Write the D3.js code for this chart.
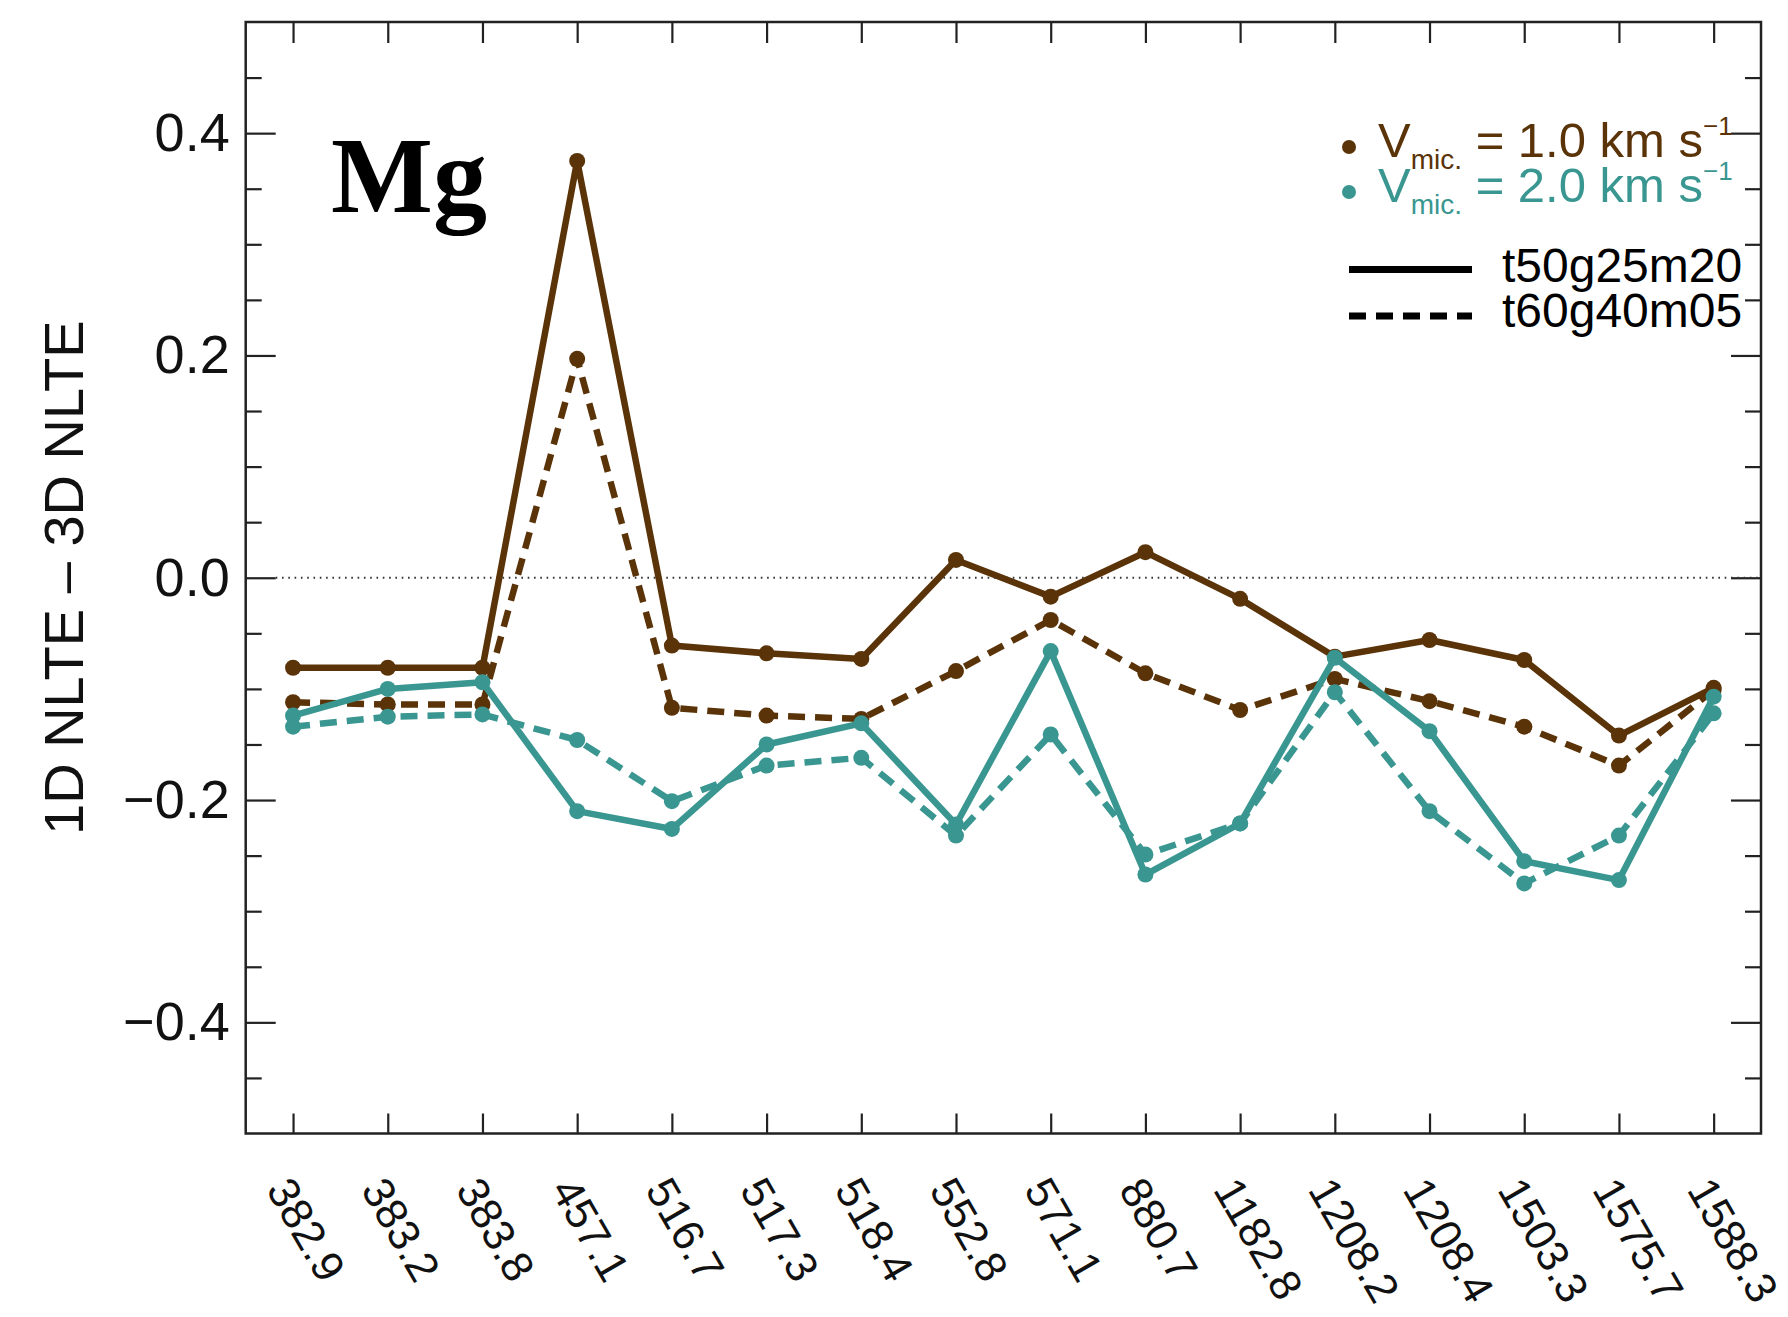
<!DOCTYPE html>
<html>
<head>
<meta charset="utf-8">
<script src="https://cdn.jsdelivr.net/npm/d3@7"></script>
<style>
  body { margin: 0; background: #fff; }
  svg { display: block; font-family: "Liberation Sans", Arial, Helvetica, sans-serif; }
</style>
</head>
<body>
<svg id="chart" width="1788" height="1317"></svg>
<script>
// Mg lines (wavelength, nm)
const lineLabels = ["382.9", "383.2", "383.8", "457.1", "516.7", "517.3", "518.4", "552.8",
                    "571.1", "880.7", "1182.8", "1208.2", "1208.4", "1503.3", "1575.7", "1588.3"];

// 1D NLTE - 3D NLTE abundance differences
const vmic1_t50g25m20 = [-0.081, -0.081, -0.081, 0.375, -0.061, -0.068, -0.073, 0.016,
                         -0.017, 0.023, -0.019, -0.071, -0.056, -0.074, -0.142, -0.099];
const vmic1_t60g40m05 = [-0.112, -0.114, -0.114, 0.197, -0.117, -0.124, -0.127, -0.084,
                         -0.038, -0.086, -0.119, -0.091, -0.111, -0.134, -0.169, -0.101];
const vmic2_t50g25m20 = [-0.124, -0.100, -0.094, -0.210, -0.226, -0.150, -0.131, -0.222,
                         -0.066, -0.267, -0.221, -0.072, -0.138, -0.255, -0.272, -0.107];
const vmic2_t60g40m05 = [-0.134, -0.125, -0.123, -0.146, -0.201, -0.169, -0.162, -0.232,
                         -0.141, -0.249, -0.221, -0.103, -0.210, -0.275, -0.232, -0.122];

const yMajorTicks = [-0.4, -0.2, 0.0, 0.2, 0.4];
const yMinorTicks = [-0.45, -0.35, -0.3, -0.25, -0.15, -0.1, -0.05, 0.05, 0.1, 0.15, 0.25, 0.3, 0.35, 0.45];

const BROWN = "#5a3308";
const TEAL = "#3a9690";
const DASH = "17,10";

const series = [
  { values: vmic1_t50g25m20, color: BROWN, dash: null },
  { values: vmic1_t60g40m05, color: BROWN, dash: DASH },
  { values: vmic2_t50g25m20, color: TEAL, dash: null },
  { values: vmic2_t60g40m05, color: TEAL, dash: DASH }
];

const W = 1788, H = 1317;
const frame = { left: 245.7, top: 22, right: 1761, bottom: 1133.5 };

const svg = d3.select("#chart");
svg.append("rect").attr("width", W).attr("height", H).attr("fill", "#fff");

const x = d3.scalePoint().domain(lineLabels).range([frame.left, frame.right]).padding(0.5);
const y = d3.scaleLinear().domain([-0.5, 0.5]).range([frame.bottom, frame.top]);

const axisColor = "#222";
function styleAxis(g, width) {
  g.select(".domain").remove();
  g.selectAll(".tick line").attr("stroke", axisColor).attr("stroke-width", width);
}

// left axis: major with labels, minor without
const gLeft = svg.append("g").attr("transform", `translate(${frame.left},0)`)
  .call(d3.axisLeft(y).tickValues(yMajorTicks).tickSize(-30).tickPadding(16).tickFormat(d3.format(".1f")))
  .call(g => styleAxis(g, 2.2));
gLeft.selectAll(".tick text").attr("font-size", 54).attr("fill", "#111")
  .attr("font-family", "'Liberation Sans', Arial, sans-serif");
svg.append("g").attr("transform", `translate(${frame.left},0)`)
  .call(d3.axisLeft(y).tickValues(yMinorTicks).tickSize(-16).tickFormat(""))
  .call(g => styleAxis(g, 2.2));

// right axis (ticks only)
svg.append("g").attr("transform", `translate(${frame.right},0)`)
  .call(d3.axisRight(y).tickValues(yMajorTicks).tickSize(-30).tickFormat(""))
  .call(g => styleAxis(g, 2.2));
svg.append("g").attr("transform", `translate(${frame.right},0)`)
  .call(d3.axisRight(y).tickValues(yMinorTicks).tickSize(-16).tickFormat(""))
  .call(g => styleAxis(g, 2.2));

// top axis (ticks only)
svg.append("g").attr("transform", `translate(0,${frame.top})`)
  .call(d3.axisTop(x).tickSize(-21).tickFormat(""))
  .call(g => styleAxis(g, 2.2));

// bottom axis with rotated line labels
const gBottom = svg.append("g").attr("transform", `translate(0,${frame.bottom})`)
  .call(d3.axisBottom(x).tickSize(-20))
  .call(g => styleAxis(g, 2.2));
gBottom.selectAll(".tick text")
  .attr("x", 0).attr("y", 0).attr("dy", null)
  .attr("text-anchor", "start")
  .attr("transform", "translate(-28,56) rotate(60)")
  .attr("font-size", 44).attr("fill", "#111")
  .attr("font-family", "'Liberation Sans', Arial, sans-serif");

// plot frame
svg.append("rect")
  .attr("x", frame.left).attr("y", frame.top)
  .attr("width", frame.right - frame.left).attr("height", frame.bottom - frame.top)
  .attr("fill", "none").attr("stroke", axisColor).attr("stroke-width", 2.5);

// zero reference line
svg.append("line")
  .attr("x1", frame.left + 30).attr("x2", frame.right)
  .attr("y1", y(0)).attr("y2", y(0))
  .attr("stroke", "#333").attr("stroke-width", 2).attr("stroke-dasharray", "1.6,4.7");

// series lines and markers
const line = d3.line().x((d, i) => x(lineLabels[i])).y(d => y(d));
series.forEach(s => {
  svg.append("path").datum(s.values)
    .attr("d", line)
    .attr("fill", "none")
    .attr("stroke", s.color)
    .attr("stroke-width", 6.5)
    .attr("stroke-linejoin", "round")
    .attr("stroke-dasharray", s.dash);
  svg.append("g").selectAll("circle").data(s.values).join("circle")
    .attr("cx", (d, i) => x(lineLabels[i]))
    .attr("cy", d => y(d))
    .attr("r", 8)
    .attr("fill", s.color);
});

// element label
svg.append("text")
  .attr("x", 331).attr("y", 212)
  .attr("font-family", "'Liberation Serif', 'Times New Roman', serif")
  .attr("font-weight", "bold").attr("font-size", 108).attr("fill", "#000")
  .text("Mg");

// y-axis title
svg.append("text")
  .attr("transform", `translate(83,${(frame.top + frame.bottom) / 2}) rotate(-90)`)
  .attr("text-anchor", "middle")
  .attr("font-size", 56).attr("fill", "#111")
  .text("1D NLTE – 3D NLTE");

// legend: microturbulence colours
const legend = svg.append("g");
const vmicEntries = [
  { label: " = 1.0 km s", color: BROWN, base: 157 },
  { label: " = 2.0 km s", color: TEAL, base: 202 }
];
vmicEntries.forEach(e => {
  legend.append("circle").attr("cx", 1349).attr("cy", e.base - 10).attr("r", 7).attr("fill", e.color);
  const t = legend.append("text").attr("x", 1378).attr("y", e.base)
    .attr("fill", e.color).attr("font-size", 49);
  t.append("tspan").text("V");
  t.append("tspan").attr("font-size", 28).attr("dy", 12).text("mic.");
  t.append("tspan").attr("dy", -12).text(e.label);
  t.append("tspan").attr("font-size", 26).attr("dy", -22).text("−1");
});

// legend: model atmospheres line styles
const modelEntries = [
  { label: "t50g25m20", dash: null, ly: 269.5, base: 282 },
  { label: "t60g40m05", dash: DASH, ly: 316, base: 327 }
];
modelEntries.forEach(e => {
  legend.append("line")
    .attr("x1", 1349).attr("x2", 1472).attr("y1", e.ly).attr("y2", e.ly)
    .attr("stroke", "#000").attr("stroke-width", 7).attr("stroke-dasharray", e.dash);
  legend.append("text").attr("x", 1502).attr("y", e.base)
    .attr("font-size", 48).attr("fill", "#000").text(e.label);
});
</script>
</body>
</html>
